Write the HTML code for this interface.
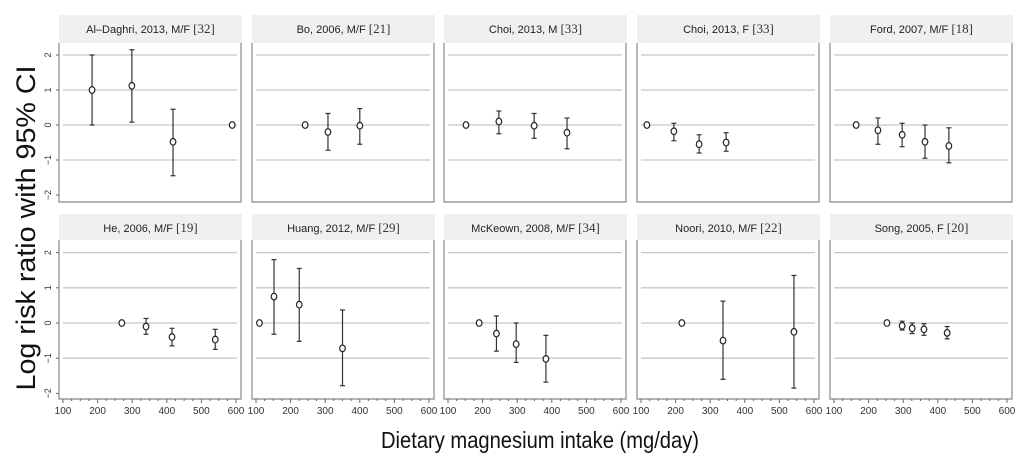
<!DOCTYPE html>
<html><head><meta charset="utf-8">
<style>
html,body{margin:0;padding:0;background:#fff;}
svg{display:block;}
text{font-family:"Liberation Sans Narrow","Liberation Sans",sans-serif;}
</style></head>
<body>
<svg id="chart" width="1024" height="466" viewBox="0 0 1024 466" xmlns="http://www.w3.org/2000/svg">
<text x="0" y="0" transform="translate(35,228) rotate(-90)" text-anchor="middle" font-size="27" textLength="325" lengthAdjust="spacingAndGlyphs" fill="#111" style="font-family:'Liberation Sans',sans-serif">Log risk ratio with 95% CI</text>
<text x="540" y="448" text-anchor="middle" font-size="23" textLength="318" lengthAdjust="spacingAndGlyphs" fill="#111">Dietary magnesium intake (mg/day)</text>
</svg>
<script>
const titles = ["Al\u2013Daghri, 2013, M/F","Bo, 2006, M/F","Choi, 2013, M","Choi, 2013, F","Ford, 2007, M/F","He, 2006, M/F","Huang, 2012, M/F","McKeown, 2008, M/F","Noori, 2010, M/F","Song, 2005, F"];
const refs = ["[32]","[21]","[33]","[33]","[18]","[19]","[29]","[34]","[22]","[20]"];
const xs = [[184,299,418,589],[242,308,400],[152,247,349,444],[117,195,268,346],[164,227,297,363,432],[270,340,415,540],[110,152,225,350],[190,240,297,383],[218,337,542],[253,297,326,360,427]];
const est = [[1.0,1.12,-0.48,0],[0,-0.2,-0.02],[0,0.1,-0.02,-0.22],[0,-0.18,-0.55,-0.5],[0,-0.15,-0.28,-0.48,-0.6],[0,-0.1,-0.4,-0.47],[0,0.75,0.52,-0.72],[0,-0.3,-0.6,-1.02],[0,-0.5,-0.25],[0,-0.08,-0.15,-0.18,-0.28]];
const lo = [[0,0.08,-1.45,null],[null,-0.72,-0.55],[null,-0.25,-0.38,-0.68],[null,-0.45,-0.8,-0.75],[null,-0.55,-0.62,-0.95,-1.08],[null,-0.32,-0.65,-0.75],[null,-0.32,-0.52,-1.78],[null,-0.8,-1.12,-1.68],[null,-1.6,-1.85],[null,-0.2,-0.3,-0.35,-0.45]];
const hi = [[2.0,2.15,0.45,null],[null,0.33,0.47],[null,0.4,0.33,0.2],[null,0.05,-0.28,-0.22],[null,0.2,0.05,0,-0.08],[null,0.13,-0.15,-0.18],[null,1.8,1.55,0.37],[null,0.2,0,-0.35],[null,0.62,1.35],[null,0.05,0,-0.02,-0.1]];
const xTicks = [100,200,300,400,500,600];
const yTicks = [-2,-1,0,1,2];
const gridVals = [-1,0,1,2];

const NS="http://www.w3.org/2000/svg";
const svg=document.getElementById('chart');
function mk(tag,attrs,parent){const e=document.createElementNS(NS,tag);for(const k in attrs)e.setAttribute(k,attrs[k]);(parent||svg).appendChild(e);return e;}
const colLeft=[59,252,444,637,830];
const W=183;
const rows=[{strip:15,top:43,y0:125,bottom:202},{strip:214,top:240,y0:323,bottom:399}];
const unit=[35,35.2];

for(let p=0;p<10;p++){
  const r=Math.floor(p/5), c=p%5, L=colLeft[c], R=rows[r];
  const xS=v=>L+4+(v-100)*0.346;
  const yS=v=>R.y0-v*unit[r];
  const g=mk('g',{});
  
  
  const st=mk('rect',{x:L,y:R.strip,width:W,height:R.top-R.strip,fill:'#f0f0f0'},g);
  
  
  const t=mk('text',{x:L+W/2,y:R.strip+18,'text-anchor':'middle','font-size':'11',fill:'#222'},g);
  
  
  t.textContent=titles[p]+' ';
  const ts=mk('tspan',{'font-size':'13','font-family':'Liberation Serif,serif',fill:'#333'},t);
  ts.textContent=refs[p];
  gridVals.forEach(v=>{
    const gl=mk('line',{x1:L+4,x2:L+W-5,y1:yS(v),y2:yS(v),stroke:'#c8c8c8','stroke-width':1.3},g);
    
    
  });
  mk('polyline',{points:`${L},${R.top} ${L},${R.bottom} ${L+W-1},${R.bottom} ${L+W-1},${R.top}`,fill:'none',stroke:'#888','stroke-width':1.2},g);
  if(c===0){
    yTicks.forEach(v=>{
      mk('line',{x1:L-3,x2:L,y1:yS(v),y2:yS(v),stroke:'#666'},g);
      const tl=mk('text',{x:0,y:0,transform:`translate(${L-8},${yS(v)}) rotate(-90)`,'text-anchor':'middle','font-size':'9',fill:'#333'},g);
      
      
      tl.textContent=v<0?'\u2212'+(-v):String(v);
    });
  }
  if(r===1){
    for(let v=100;v<=600;v+=25){
      mk('line',{x1:xS(v),x2:xS(v),y1:R.bottom,y2:R.bottom+(v%100===0?4:2),stroke:'#666'},g);
    }
    xTicks.forEach(v=>{
      const tl=mk('text',{x:xS(v),y:R.bottom+15,'text-anchor':'middle','font-size':'10',fill:'#333'},g);
      
      
      tl.textContent=v;
    });
  }
  for(let i=0;i<xs[p].length;i++){
    const x=xS(xs[p][i]);
    if(lo[p][i]!==null){
      const eb=mk('g',{stroke:'#333','stroke-width':1.2},g);
      
      
      mk('line',{x1:x,x2:x,y1:yS(lo[p][i]),y2:yS(hi[p][i])},eb);
      mk('line',{x1:x-2.5,x2:x+2.5,y1:yS(lo[p][i]),y2:yS(lo[p][i])},eb);
      mk('line',{x1:x-2.5,x2:x+2.5,y1:yS(hi[p][i]),y2:yS(hi[p][i])},eb);
    }
    const pt=mk('ellipse',{cx:x,cy:yS(est[p][i]),rx:2.8,ry:3.3,fill:'#fff',stroke:'#222','stroke-width':1.2},g);
    
    
  }
}
</script>
</body></html>
